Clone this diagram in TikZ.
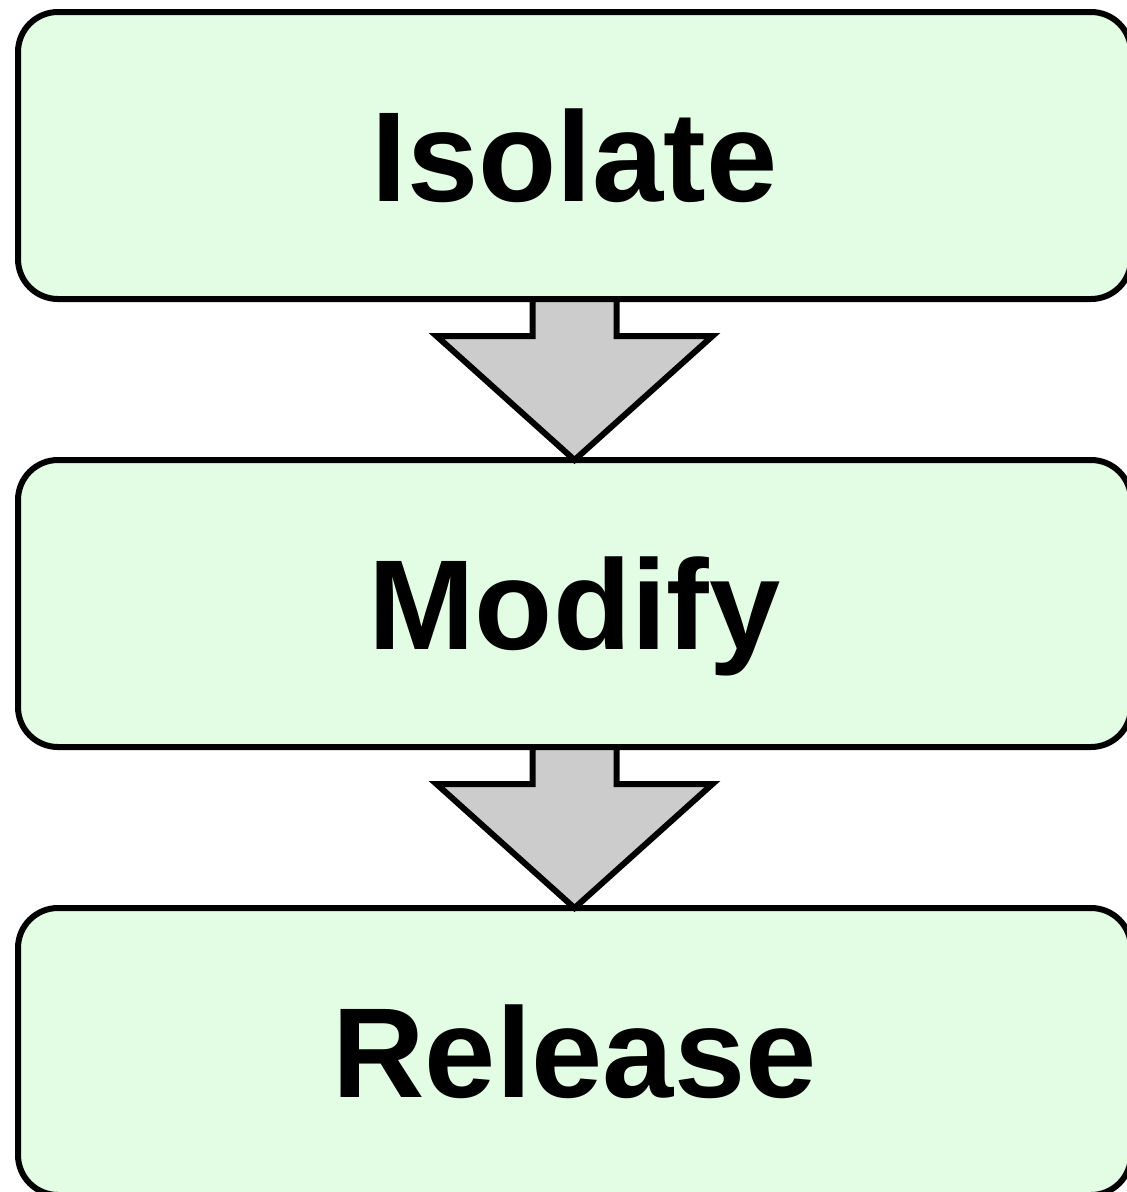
\documentclass[tikz,border=0pt]{standalone}
\usepackage{fontspec}
\setmainfont{Liberation Sans}
\usetikzlibrary{positioning}
\definecolor{stagegreen}{RGB}{227,252,228}
\definecolor{flowgray}{RGB}{204,204,204}

\begin{document}
\begin{tikzpicture}[x=1pt,y=-1pt]
	\tikzstyle{stage}=[draw=black, line width=6pt, fill=stagegreen, rounded corners=40pt, minimum width=1113pt, minimum height=287pt, inner sep=0pt, outer sep=0pt, text height=92pt, text depth=0pt, font=\fontsize{128}{140}\selectfont\bfseries]
	\tikzstyle{flow}=[draw=black, line width=6pt, fill=flowgray, line join=miter]
	\useasboundingbox (0,0) rectangle (1127,1192);
	\node[stage] (isolate) at (574.5,155.5) {Isolate};
	\node[stage, below=161pt of isolate] (modify) {Modify};
	\node[stage, below=161pt of modify] (release) {Release};
	\foreach \from/\to in {isolate/modify, modify/release}
		\draw[flow] ([xshift=-42pt]\from.south) -- ++(0,37) -- ++(-96,0) -- (\to.north) -- ++(138,-124) -- ++(-96,0) -- ++(0,-37) -- cycle;
\end{tikzpicture}
\end{document}
